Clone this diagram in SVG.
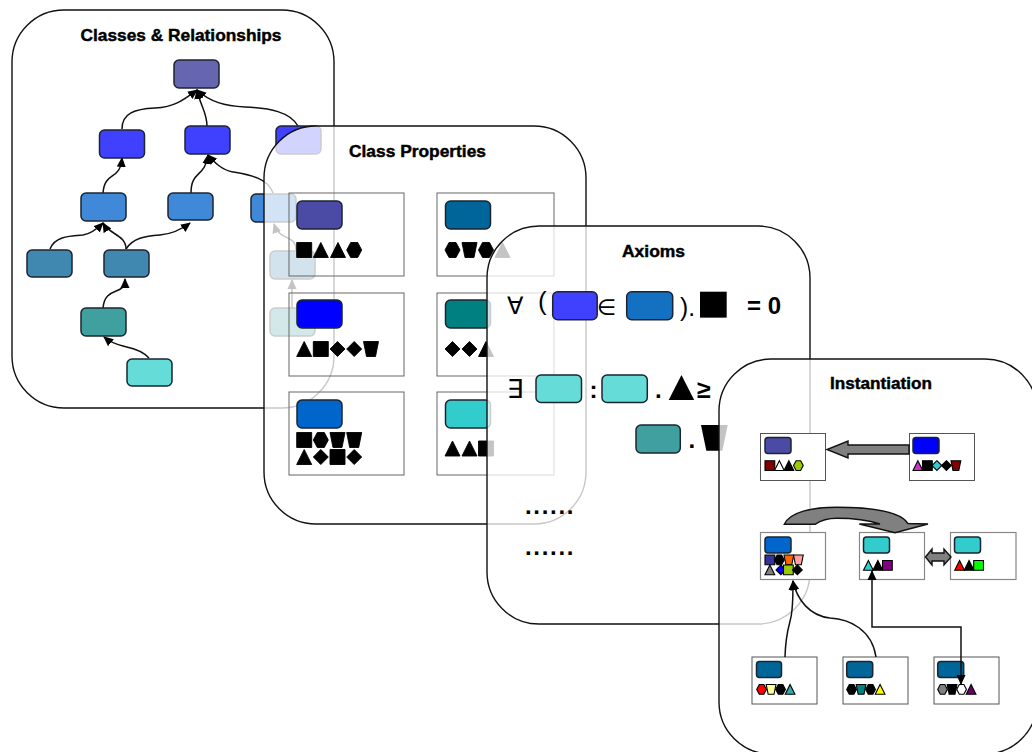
<svg xmlns="http://www.w3.org/2000/svg" xmlns:xlink="http://www.w3.org/1999/xlink" width="1032" height="752" viewBox="0 0 1032 752">
<style>
.panel{fill:#fff;fill-opacity:.77;stroke:#111;stroke-width:1.4}
.n{stroke:#1c2430;stroke-width:1.5}
.title{font-family:"Liberation Sans",Arial,sans-serif;font-weight:bold;font-size:17px;fill:#000;text-anchor:middle;stroke:#000;stroke-width:.45}
.c{fill:none;stroke:#111;stroke-width:1.5}
.box{fill:none;stroke:#666;stroke-width:1}
.mbox{fill:#fff;stroke:#555;stroke-width:1}
.mbox2{fill:#fff;stroke:#888;stroke-width:1.2}
.m{stroke:#000;stroke-width:1.7}
.big{font-family:"Liberation Sans",Arial,sans-serif;font-size:26px;fill:#000}
.sym{font-family:"DejaVu Sans",sans-serif;font-size:24px;fill:#000}
.bold{font-family:"Liberation Sans",Arial,sans-serif;font-weight:bold;fill:#000}
.block{fill:#808080;stroke:#111;stroke-width:1.4}
#panel-properties use{stroke:#000;stroke-width:.9}
</style>
<defs>
<marker id="a" markerUnits="userSpaceOnUse" markerWidth="11" markerHeight="10" refX="9" refY="5" orient="auto-start-reverse"><path d="M0 0.5L10 5L0 9.5Z" fill="#000"/></marker>
<path id="sq" d="M0 0H15V15H0Z"/>
<path id="tri" d="M7.500 0L15 15H0Z"/>
<path id="hex" d="M4 0H11L15 7.500L11 15H4L0 7.500Z"/>
<path id="dia" d="M7.500 0L15 7.500L7.500 15L0 7.500Z"/>
<path id="trap" d="M0 0H15L12 15H3Z"/>
</defs>

<g id="panel-classes">
<rect class="panel" x="12" y="10" width="322" height="398" rx="52"/>
<text class="title" x="181" y="41" textLength="201" lengthAdjust="spacingAndGlyphs">Classes &amp; Relationships</text>
<g id="connectors-classes">
<path class="c" marker-end="url(#a)" d="M122 129C122 113 135 109 155 108C175 107 185 99 197 90"/>
<path class="c" marker-end="url(#a)" d="M207 126C207 112 200 105 197 90"/>
<path class="c" marker-end="url(#a)" d="M298 126C290 112 270 108 245 107C225 106 210 102 197 90"/>
<path class="c" marker-end="url(#a)" d="M103 193C105 170 120 182 122 158"/>
<path class="c" marker-end="url(#a)" d="M191 193C191 170 205 178 208 155"/>
<path class="c" marker-end="url(#a)" d="M273 193C268 178 250 175 233 172C222 170 215 163 208 155"/>
<path class="c" marker-end="url(#a)" d="M50 249C55 236 70 236 83 235C90 234 97 229 103 223"/>
<path class="c" marker-end="url(#a)" d="M126 249C126 235 110 235 103 223"/>
<path class="c" marker-end="url(#a)" d="M126 249C133 238 145 236 160 235C172 234 182 229 190 223"/>
<path class="c" marker-end="url(#a)" d="M103 308C105 285 125 297 125 279"/>
<path class="c" marker-end="url(#a)" d="M149 358C140 348 125 347 123 346C115 344 110 342 104 337"/>
<path class="c" marker-end="url(#a)" d="M296 250C296 234 280 242 274 224"/>
<path class="c" marker-end="url(#a)" d="M292 308V280"/>
</g>
<g id="c0"><rect class="n" fill="#6565b0" x="174" y="60" width="45" height="28" rx="5"/></g>
<g id="c1"><rect class="n" fill="#4040ff" x="99.500" y="130" width="45" height="28" rx="5"/></g>
<g id="c2"><rect class="n" fill="#4040ff" x="185" y="126" width="45" height="28" rx="5"/></g>
<g id="c3"><rect class="n" fill="#4040ff" x="276" y="126" width="45" height="28" rx="5"/></g>
<g id="c4"><rect class="n" fill="#4088d8" x="81" y="193" width="45" height="28" rx="5"/></g>
<g id="c5"><rect class="n" fill="#4088d8" x="168" y="193" width="45" height="27" rx="5"/></g>
<g id="c6"><rect class="n" fill="#4088d8" x="251" y="194" width="45" height="28" rx="5"/></g>
<g id="c7"><rect class="n" fill="#4088b0" x="27" y="250" width="45" height="27" rx="5"/></g>
<g id="c8"><rect class="n" fill="#4088b0" x="104" y="250" width="45" height="27" rx="5"/></g>
<g id="c9"><rect class="n" fill="#4088b0" x="270" y="251" width="45" height="28" rx="5"/></g>
<g id="c10"><rect class="n" fill="#40a0a0" x="81" y="308" width="45" height="28" rx="5"/></g>
<g id="c11"><rect class="n" fill="#40a0a0" x="270" y="308" width="45" height="28" rx="5"/></g>
<g id="c12"><rect class="n" fill="#66dcd8" x="127" y="359" width="45" height="27" rx="5"/></g>
</g>

<g id="panel-properties">
<rect class="panel" x="264" y="126" width="322" height="398" rx="52"/>
<text class="title" x="417.500" y="157" textLength="137" lengthAdjust="spacingAndGlyphs">Class Properties</text>
<g id="p1"><rect class="box" x="289" y="193" width="115" height="83"/><rect class="n" fill="#4b4ba5" x="297" y="201" width="45" height="28" rx="5"/>
<use href="#sq" x="296.700" y="242.500"/><use href="#tri" x="313.300" y="242.500"/><use href="#tri" x="330.500" y="242.500"/><use href="#hex" x="346.700" y="242.500"/></g>
<g id="p2"><rect class="box" x="437" y="193" width="117" height="83"/><rect class="n" fill="#006699" x="445.500" y="201" width="45" height="28" rx="5"/>
<use href="#hex" x="445" y="242.500"/><use href="#trap" x="462" y="242.500"/><use href="#hex" x="478.500" y="242.500"/><use href="#tri" x="495" y="242.500"/></g>
<g id="p3"><rect class="box" x="289" y="293" width="115" height="83"/><rect class="n" fill="#0000ff" x="297" y="300" width="45" height="28" rx="5"/>
<use href="#tri" x="296.700" y="341.500"/><use href="#sq" x="313.300" y="341.500"/><use href="#dia" x="330" y="341.500"/><use href="#dia" x="346.700" y="341.500"/><use href="#trap" x="363.500" y="341.500"/></g>
<g id="p4"><rect class="box" x="437" y="293" width="117" height="83"/><rect class="n" fill="#008080" x="445.500" y="300" width="45" height="28" rx="5"/>
<use href="#dia" x="445" y="341.500"/><use href="#dia" x="462" y="341.500"/><use href="#tri" x="478.500" y="341.500"/></g>
<g id="p5"><rect class="box" x="289" y="392" width="115" height="83"/><rect class="n" fill="#0066cc" x="297" y="400" width="45" height="28" rx="5"/>
<use href="#sq" x="296.700" y="432.500"/><use href="#hex" x="313.300" y="432.500"/><use href="#trap" x="330" y="432.500"/><use href="#trap" x="346.700" y="432.500"/>
<use href="#tri" x="296.700" y="449.500"/><use href="#dia" x="313.300" y="449.500"/><use href="#sq" x="330" y="449.500"/><use href="#dia" x="346.700" y="449.500"/></g>
<g id="p6"><rect class="box" x="437" y="392" width="117" height="83"/><rect class="n" fill="#33cccc" x="445.500" y="400" width="45" height="28" rx="5"/>
<use href="#tri" x="445" y="441"/><use href="#tri" x="462" y="441"/><use href="#sq" x="478.500" y="441"/></g>
</g>

<g id="panel-axioms">
<rect class="panel" x="487" y="226" width="323" height="398" rx="52"/>
<text class="title" x="653.500" y="257" textLength="63" lengthAdjust="spacingAndGlyphs">Axioms</text>
<g id="axiom-1">
<text class="sym" x="507" y="314">∀</text>
<text class="big" x="538" y="310">(</text>
<rect class="n" fill="#4040ff" x="552.700" y="291.700" width="44.500" height="28" rx="5"/>
<text class="sym" x="597" y="315" style="font-size:22px">∈</text>
<rect class="n" fill="#1470c0" x="626.700" y="291.700" width="46" height="28" rx="5"/>
<text class="big" x="680" y="316" textLength="15" lengthAdjust="spacingAndGlyphs">).</text>
<use href="#sq" transform="translate(700 291.700) scale(1.78 1.73)"/>
<text class="bold" x="747" y="314" font-size="24" textLength="34">= 0</text>
</g>
<g id="axiom-2">
<text class="sym" x="507" y="398" style="font-size:26px">∃</text>
<rect class="n" fill="#66dcd8" x="536" y="375" width="45.500" height="27.500" rx="5"/>
<text class="bold" x="589.500" y="398" font-size="24">:</text>
<rect class="n" fill="#66dcd8" x="602" y="375" width="45.300" height="27.500" rx="5"/>
<text class="bold" x="655" y="398" font-size="24">.</text>
<use href="#tri" transform="translate(668.700 375) scale(1.7 1.67)"/>
<text class="bold" x="697" y="398" font-size="25">≥</text>
<rect class="n" fill="#40a0a0" x="636" y="425" width="44.300" height="28" rx="5"/>
<text class="bold" x="688.500" y="448" font-size="24">.</text>
<use href="#trap" transform="translate(701 425) scale(1.78 1.72)"/>
</g>
<text class="bold" x="525" y="514" font-size="24" letter-spacing="1.7">......</text>
<text class="bold" x="525" y="555" font-size="24" letter-spacing="1.7">......</text>
</g>

<g id="panel-instantiation">
<rect class="panel" x="719" y="359" width="318" height="395" rx="52"/>
<text class="title" x="881" y="389" textLength="102" lengthAdjust="spacingAndGlyphs">Instantiation</text>
<g id="i1"><rect class="mbox" x="760.500" y="433.500" width="65" height="47"/><rect class="n" fill="#4b4ba5" x="765" y="437.500" width="26" height="16" rx="3"/>
<use class="m" fill="#800000" transform="translate(765 460.700) scale(.65)" href="#sq"/><use class="m" fill="#fff" transform="translate(774.500 460.700) scale(.65)" href="#tri"/><use class="m" fill="#000" transform="translate(784 460.700) scale(.65)" href="#tri"/><use class="m" fill="#99cc00" transform="translate(793.500 460.700) scale(.65)" href="#hex"/></g>
<g id="i2"><rect class="mbox" x="909.500" y="433.500" width="65" height="47"/><rect class="n" fill="#0000ff" x="913" y="437.500" width="26" height="16" rx="3"/>
<use class="m" fill="#cc33cc" transform="translate(913 460.700) scale(.65)" href="#tri"/><use class="m" fill="#000" transform="translate(922.500 460.700) scale(.65)" href="#sq"/><use class="m" fill="#33cccc" transform="translate(932 460.700) scale(.65)" href="#dia"/><use class="m" fill="#000" transform="translate(941.500 460.700) scale(.65)" href="#dia"/><use class="m" fill="#800000" transform="translate(951 460.700) scale(.65)" href="#trap"/></g>
<g id="i3"><rect class="mbox2" x="760.500" y="532.500" width="65" height="47"/><rect class="n" fill="#0066cc" x="765" y="537" width="26" height="16" rx="3"/>
<use class="m" fill="#333399" transform="translate(765 555) scale(.65)" href="#sq"/><use class="m" fill="#000" transform="translate(774.500 555) scale(.65)" href="#hex"/><use class="m" fill="#ff6600" transform="translate(784 555) scale(.65)" href="#trap"/><use class="m" fill="#ffa0a0" transform="translate(793.500 555) scale(.65)" href="#trap"/>
<use class="m" fill="#808080" transform="translate(765 565) scale(.65)" href="#tri"/><use class="m" fill="#0000ff" transform="translate(776 565) scale(.65)" href="#dia"/><use class="m" fill="#99cc00" transform="translate(783.500 565) scale(.65)" href="#sq"/><use class="m" fill="#000" transform="translate(792.500 565) scale(.65)" href="#dia"/></g>
<g id="i4"><rect class="mbox2" x="859.500" y="532.500" width="65" height="47"/><rect class="n" fill="#33cccc" x="863.500" y="537" width="26" height="16" rx="3"/>
<use class="m" fill="#33cccc" transform="translate(863.500 560.500) scale(.65)" href="#tri"/><use class="m" fill="#000" transform="translate(873 560.500) scale(.65)" href="#tri"/><use class="m" fill="#800080" transform="translate(882.500 560.500) scale(.65)" href="#sq"/></g>
<g id="i5"><rect class="mbox2" x="950.500" y="532.500" width="65.500" height="47"/><rect class="n" fill="#33cccc" x="954.500" y="537" width="26" height="16" rx="3"/>
<use class="m" fill="#ff0000" transform="translate(954.700 560.500) scale(.65)" href="#tri"/><use class="m" fill="#000" transform="translate(964.200 560.500) scale(.65)" href="#tri"/><use class="m" fill="#00ff00" transform="translate(973.700 560.500) scale(.65)" href="#sq"/></g>
<g id="i6"><rect class="mbox" x="752" y="657" width="65" height="47"/><rect class="n" fill="#006699" x="756.500" y="661.500" width="25" height="16" rx="3"/>
<use class="m" fill="#ff0000" transform="translate(756.700 684.500) scale(.65)" href="#hex"/><use class="m" fill="#ffff99" transform="translate(766.200 684.500) scale(.65)" href="#trap"/><use class="m" fill="#000" transform="translate(775.700 684.500) scale(.65)" href="#hex"/><use class="m" fill="#33aaaa" transform="translate(785.200 684.500) scale(.65)" href="#tri"/></g>
<g id="i7"><rect class="mbox" x="843" y="657" width="65" height="47"/><rect class="n" fill="#006699" x="846.700" y="661.500" width="26" height="16" rx="3"/>
<use class="m" fill="#000" transform="translate(846.700 684.500) scale(.65)" href="#hex"/><use class="m" fill="#008080" transform="translate(856.200 684.500) scale(.65)" href="#trap"/><use class="m" fill="#000" transform="translate(865.700 684.500) scale(.65)" href="#hex"/><use class="m" fill="#ffff00" transform="translate(875.200 684.500) scale(.65)" href="#tri"/></g>
<g id="i8"><rect class="mbox" x="934" y="657" width="65" height="47"/><rect class="n" fill="#006699" x="937.700" y="661.500" width="26" height="16" rx="3"/>
<use class="m" fill="#808080" transform="translate(937.700 684.500) scale(.65)" href="#hex"/><use class="m" fill="#000" transform="translate(947.200 684.500) scale(.65)" href="#trap"/><use class="m" fill="#fff" transform="translate(956.700 684.500) scale(.65)" href="#hex"/><use class="m" fill="#660066" transform="translate(966.200 684.500) scale(.65)" href="#tri"/></g>
<g id="connectors-instantiation">
<path class="block" d="M909 445H848V441L827 449.500L848 458V454H909Z"/>
<path class="block" d="M784.300 524.300C790 512 812 507.300 836.700 507.300C870 507.300 900 511 908 523.500L928 524L895 532.700L859.300 524L880 524C865 519 850 518.300 836.700 518.300C828 518.300 820 521 815 524.300Z"/>
<path class="block" d="M925.500 557L932 549V553H944V549L951 557L944 565V561H932V565Z"/>
<path class="c" marker-end="url(#a)" d="M785 657C786 625 791 625 792 610C793 600 793 595 793 581"/>
<path class="c" marker-end="url(#a)" d="M876 657C872 630 850 619 830 618C810 616 797 600 793 581"/>
<path class="c" marker-start="url(#a)" marker-end="url(#a)" d="M872 571V627H961V684"/>
</g>
</g>
</svg>
